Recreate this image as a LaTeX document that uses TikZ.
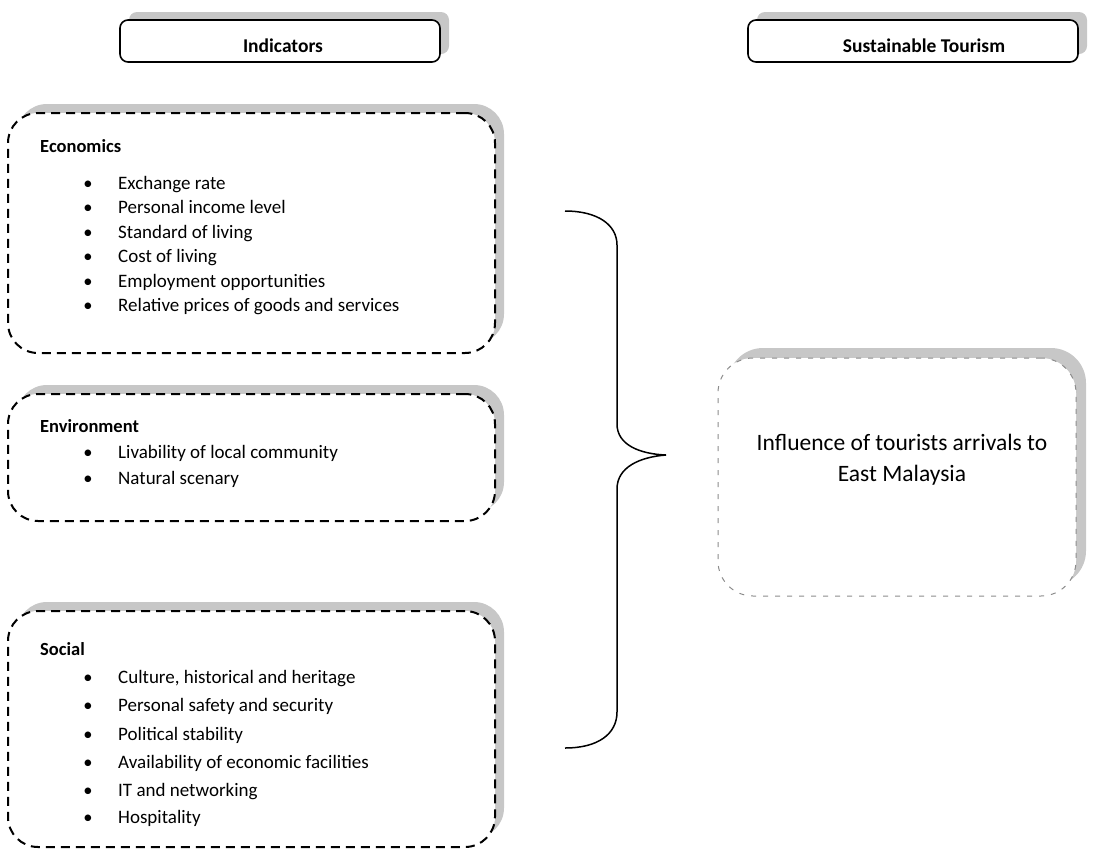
\documentclass[tikz,border=0pt]{standalone}
\usepackage{fontspec}
\setmainfont{Carlito}
\usetikzlibrary{shadows}
\begin{document}
\begin{tikzpicture}[x=1pt,y=-1pt,
  boxshadow/.style={general shadow={fill=black!22, shadow xshift=9pt, shadow yshift=9pt}},
  bigbox/.style={draw=black, line width=2pt, dash pattern=on 9pt off 6pt, rounded corners=30pt,
    fill=white, boxshadow, minimum width=487pt, inner sep=0pt},
  headbox/.style={draw=black, line width=1.6pt, rounded corners=8pt, fill=white,
    general shadow={fill=black!22, shadow xshift=9pt, shadow yshift=8pt},
    minimum height=42pt, inner sep=0pt},
  resbox/.style={draw=black!45, line width=1pt, dash pattern=on 5pt off 7pt, rounded corners=35pt,
    fill=white, general shadow={fill=black!22, shadow xshift=10pt, shadow yshift=10pt},
    minimum width=358pt, minimum height=238pt, inner sep=0pt},
  headtxt/.style={anchor=base, font=\fontsize{19.5}{23}\selectfont\bfseries, inner sep=0pt},
  titletxt/.style={anchor=base west, font=\fontsize{18.5}{22}\selectfont\bfseries, inner sep=0pt},
  itemtxt/.style={anchor=base west, font=\fontsize{19}{22}\selectfont, inner sep=0pt},
  bul/.style={anchor=base, font=\fontsize{18.5}{22}\selectfont, inner sep=0pt},
  brace/.style={draw=black, line width=1.5pt}
]
\useasboundingbox (0,0) rectangle (1093,855);

% header boxes
\node[headbox, minimum width=320pt] (hind) at (280,41) {};
\node[headtxt] (tind) at (283,52) {Indicators};
\node[headbox, minimum width=330pt] (hsus) at (913,41) {};
\node[headtxt] (tsus) at (924,52) {Sustainable Tourism};

% Economics
\node[bigbox, minimum height=240pt] (eco) at (251.5,233) {};
\node[titletxt] (ecot) at (40,152) {Economics};
\foreach \y/\t [count=\i] in {189/Exchange rate, 213.5/Personal income level, 238/Standard of living,
  262.5/Cost of living, 287/Employment opportunities, 311.5/Relative prices of goods and services}{
  \node[bul] (ecob\i) at (88,\y) {\textbullet};
  \node[itemtxt] (ecoi\i) at (118,\y) {\t};
}

% Environment
\node[bigbox, minimum height=127pt] (env) at (251.5,457.5) {};
\node[titletxt] (envt) at (40,432) {Environment};
\foreach \y/\t [count=\i] in {458/Livability of local community, 484/Natural scenary}{
  \node[bul] (envb\i) at (88,\y) {\textbullet};
  \node[itemtxt] (envi\i) at (118,\y) {\t};
}

% Social
\node[bigbox, minimum height=236pt] (soc) at (251.5,729) {};
\node[titletxt] (soct) at (40,655) {Social};
\foreach \y/\t [count=\i] in {683/{Culture, historical and heritage}, 711.5/Personal safety and security,
  740/Political stability, 768/Availability of economic facilities, 796/IT and networking, 823.5/Hospitality}{
  \node[bul] (socb\i) at (88,\y) {\textbullet};
  \node[itemtxt] (soci\i) at (118,\y) {\t};
}

% result box
\node[resbox] (res) at (897,477) {};
\node[align=center, font=\fontsize{23.5}{31}\selectfont, inner sep=0pt] (rest) at (902,460)
  {Influence of tourists arrivals to\\East Malaysia};

% brace
\coordinate (btop) at (565,211);
\coordinate (btip) at (666,455);
\coordinate (bbot) at (565,748);
\draw[brace] (btop) .. controls (598,211) and (617,225) .. (617,245) -- (617,424)
  .. controls (617,445) and (640,454) .. (btip)
  .. controls (640,457) and (617,467) .. (617,489) -- (617,712)
  .. controls (617,734) and (598,748) .. (bbot);
\end{tikzpicture}
\end{document}
